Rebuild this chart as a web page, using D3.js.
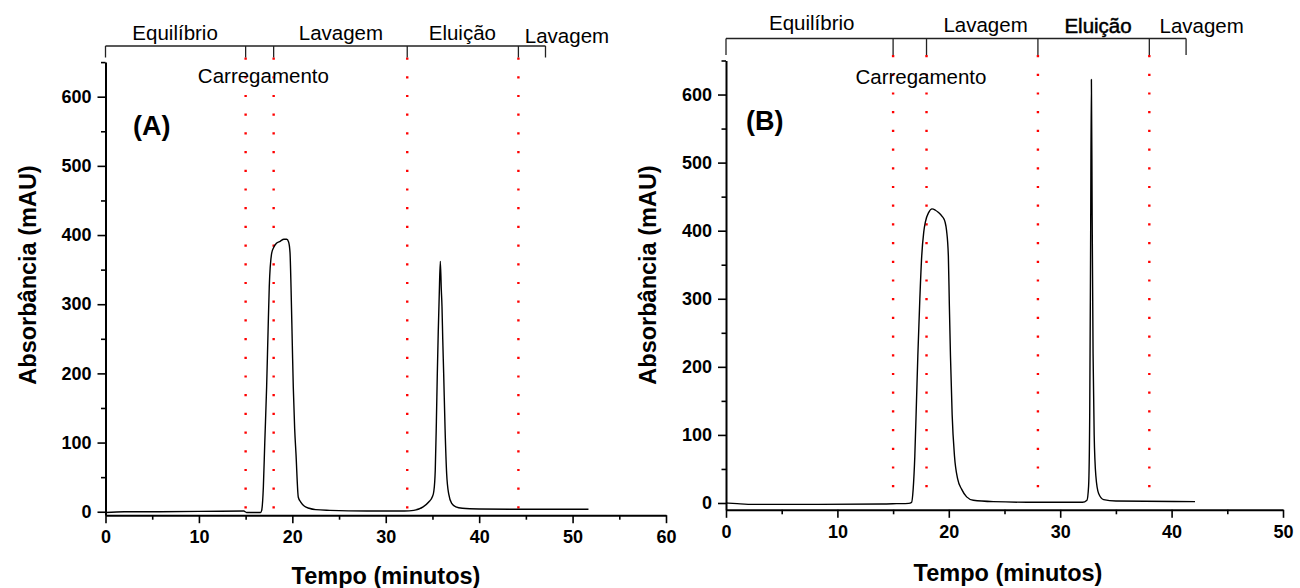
<!DOCTYPE html>
<html>
<head>
<meta charset="utf-8">
<script src="https://cdn.jsdelivr.net/npm/d3@7"></script>
<style>
  body { margin: 0; background: #fff; }
  svg { display: block; }
  text { font-family: "Liberation Sans", Arial, Helvetica, sans-serif; fill: #000; }
</style>
</head>
<body>
<svg id="chart" width="1300" height="588"></svg>
<script>
// Chromatogram (A): time in minutes, absorbance in mAU
const timeA = [0, 2, 5, 10, 14.8, 15.1, 16.6, 16.72, 16.9, 17.05, 17.25, 17.4, 17.53, 17.79, 18.0, 18.3, 18.7, 19.1, 19.4, 19.6,
  19.75, 19.86, 20.0, 20.1, 20.25, 20.39, 20.64, 20.9, 21.3, 21.8, 22.5, 24, 28, 32, 33, 34.0, 34.6, 35.0, 35.15, 35.3,
  35.42, 35.52, 35.62, 35.72, 35.84, 35.95, 36.02, 36.1, 36.2, 36.35, 36.52, 36.75, 37.06, 37.5, 38.2, 40, 45, 51.7];
const absA = [-1, 0, 0, 0.5, 1, -1, -1, 2, 36, 100, 181, 260, 325, 374, 382, 388, 391, 394, 394, 390,
  375, 325, 240, 181, 120, 84, 21, 14, 8, 5, 3, 2, 1, 1, 2, 7, 14, 22, 30, 60,
  130, 200, 260, 310, 362, 320, 297, 250, 200, 120, 55, 25, 12, 7, 5, 4, 3.5, 3.5];

// Chromatogram (B)
const timeB = [0, 1, 2.5, 8, 14, 15.3, 16.4, 16.66, 16.8, 16.95, 17.1, 17.22, 17.4, 17.57, 17.75, 17.9, 18.2, 18.49, 18.8, 19.05,
  19.3, 19.5, 19.66, 19.8, 19.96, 20.05, 20.15, 20.3, 20.51, 20.8, 21.16, 21.6, 22.2, 24, 28, 32, 32.4, 32.55, 32.65, 32.73,
  32.8, 32.87, 32.95, 33.05, 33.2, 33.45, 33.9, 35, 42.1];
const absB = [0, -1, -2, -2, -1.5, -1, -0.5, 1, 20, 69, 150, 216, 300, 363, 398, 413, 427, 432, 430, 427,
  423, 419, 413, 400, 363, 290, 216, 130, 69, 35, 20, 9, 4, 2, 1, 1, 4, 25, 130, 380,
  622, 420, 220, 100, 40, 14, 5, 3, 2];

// Run phases and their boundaries (minutes)
const phaseNames = ["Equilíbrio", "Carregamento", "Lavagem", "Eluição", "Lavagem"];
const stepsA = [0, 15, 18, 32.3, 44.2, 47.1];
const stepsB = [0, 15, 18, 28, 38, 41.3];
const dividersA = [15, 18, 32.3, 44.2];
const dividersB = [15, 18, 28, 38];
const phaseLabelTimeA = [7.45, 16.9, 25.2, 38.2, 49.4];
const phaseLabelTimeB = [7.7, 17.5, 23.3, 33.4, 42.7];

// Axis ticks
const yTicks = [0, 100, 200, 300, 400, 500, 600];
const yMinorTicks = [50, 150, 250, 350, 450, 550, 650];
const xTicksA = [0, 10, 20, 30, 40, 50, 60];
const xMinorTicksA = [5, 15, 25, 35, 45, 55];
const xTicksB = [0, 10, 20, 30, 40, 50];
const xMinorTicksB = [5, 15, 25, 35, 45];

const svg = d3.select("#chart");

function drawPanel(p) {
  const g = svg.append("g");
  const x = d3.scaleLinear().domain(p.xDomain).range(p.xRange);
  const y = d3.scaleLinear().domain(p.yDomain).range(p.yRange);
  const x0 = p.xRange[0];
  const yBase = y(p.yDomain[0]);

  // axes
  const yAxis = g.append("g").attr("transform", `translate(${x0},0)`)
    .call(d3.axisLeft(y).tickValues(yTicks).tickSize(8).tickSizeOuter(0).tickPadding(6));
  g.append("g").attr("transform", `translate(${x0},0)`)
    .call(d3.axisLeft(y).tickValues(yMinorTicks).tickSize(4.5).tickSizeOuter(0).tickFormat(""))
    .select(".domain").remove();
  const xAxis = g.append("g").attr("transform", `translate(0,${yBase})`)
    .call(d3.axisBottom(x).tickValues(p.xTicks).tickSize(8).tickSizeOuter(0).tickPadding(7));
  g.append("g").attr("transform", `translate(0,${yBase})`)
    .call(d3.axisBottom(x).tickValues(p.xMinor).tickSize(4.5).tickSizeOuter(0).tickFormat(""))
    .select(".domain").remove();

  g.selectAll(".domain").attr("stroke", "#000").attr("stroke-width", 2);
  g.selectAll(".tick line").attr("stroke", "#000").attr("stroke-width", 1.6);
  g.selectAll(".tick text")
    .style("font-family", "'Liberation Sans', Arial, sans-serif")
    .style("font-size", "18px").style("font-weight", "bold").attr("fill", "#000");

  // phase dividers (red dotted)
  g.selectAll(".divider").data(p.dividers).join("line")
    .attr("class", "divider")
    .attr("x1", d => x(d)).attr("x2", d => x(d))
    .attr("y1", p.bracketBottom).attr("y2", y(0))
    .attr("stroke", "#ff0000").attr("stroke-width", 2.4)
    .attr("stroke-dasharray", "2.2 16.5");

  // phase brackets on top
  g.append("line")
    .attr("x1", x(p.steps[0])).attr("x2", x(p.steps[p.steps.length - 1]))
    .attr("y1", p.bracketY).attr("y2", p.bracketY)
    .attr("stroke", "#222").attr("stroke-width", 1.3);
  g.selectAll(".step").data(p.steps).join("line")
    .attr("class", "step")
    .attr("x1", d => x(d)).attr("x2", d => x(d))
    .attr("y1", p.bracketY).attr("y2", p.bracketBottom)
    .attr("stroke", "#222").attr("stroke-width", 1.3);

  g.selectAll(".phase").data(phaseNames).join("text")
    .attr("class", "phase")
    .attr("x", (d, i) => x(p.labelTimes[i]))
    .attr("y", (d, i) => p.labelBase[i])
    .attr("text-anchor", "middle")
    .style("font-size", "20.5px")
    .attr("stroke", (d, i) => (p.boldLabel === i ? "#000" : "none"))
    .attr("stroke-width", 0.5)
    .text(d => d);

  // trace
  const line = d3.line().x(d => x(d[0])).y(d => y(d[1])).curve(d3.curveMonotoneX);
  g.append("path")
    .datum(p.time.map((t, i) => [t, p.abs[i]]))
    .attr("fill", "none").attr("stroke", "#000").attr("stroke-width", 1.4)
    .attr("stroke-linejoin", "round")
    .attr("d", line);

  // panel tag
  g.append("text").attr("x", p.tag[1]).attr("y", p.tag[2])
    .style("font-size", "27px").style("font-weight", "bold").text(p.tag[0]);

  // axis titles
  g.append("text")
    .attr("x", p.xTitle[0]).attr("y", p.xTitle[1])
    .attr("text-anchor", "middle").attr("dominant-baseline", "central")
    .style("font-size", "23.5px").style("font-weight", "bold")
    .text("Tempo (minutos)");
  g.append("text")
    .attr("transform", `translate(${p.yTitle[0]},${p.yTitle[1]}) rotate(-90)`)
    .attr("text-anchor", "middle").attr("dominant-baseline", "central")
    .style("font-size", "23.5px").style("font-weight", "bold")
    .text("Absorbância (mAU)");
}

drawPanel({
  xDomain: [0, 60], xRange: [105.5, 666],
  yDomain: [-5, 650], yRange: [515.2, 62.1],
  xTicks: xTicksA, xMinor: xMinorTicksA,
  time: timeA, abs: absA,
  steps: stepsA, dividers: dividersA,
  bracketY: 46, bracketBottom: 57.5,
  labelTimes: phaseLabelTimeA, labelBase: [40, 83, 40, 40, 42.5],
  boldLabel: -1,
  tag: ["(A)", 133, 135],
  xTitle: [386, 576], yTitle: [27.5, 275]
});

drawPanel({
  xDomain: [0, 50], xRange: [726, 1283],
  yDomain: [-10, 650], yRange: [509.8, 60.5],
  xTicks: xTicksB, xMinor: xMinorTicksB,
  time: timeB, abs: absB,
  steps: stepsB, dividers: dividersB,
  bracketY: 38.5, bracketBottom: 55,
  labelTimes: phaseLabelTimeB, labelBase: [29.5, 84, 31.5, 33, 32.5],
  boldLabel: 3,
  tag: ["(B)", 746, 130],
  xTitle: [1008, 573], yTitle: [648, 275]
});
</script>
</body>
</html>
